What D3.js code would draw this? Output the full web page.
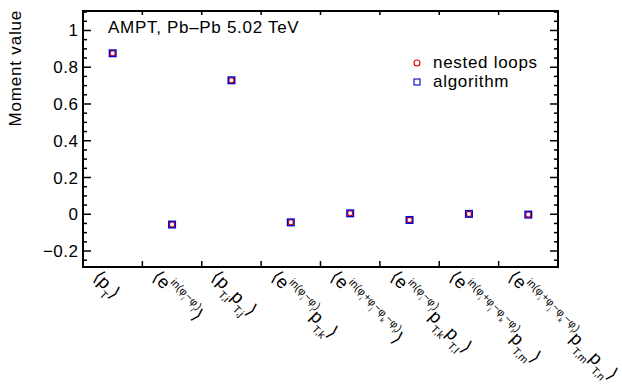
<!DOCTYPE html>
<html><head><meta charset="utf-8">
<script src="https://cdn.jsdelivr.net/npm/d3@7"></script>
<style>body{margin:0;background:#fff}text{font-family:"Liberation Sans",Arial,Helvetica,sans-serif}</style>
</head><body><svg id="c" width="622" height="392"></svg>
<script>
// ---- data ----
const categories = [
  "⟨p_{T}⟩",
  "⟨e^{in(φ_{i}−φ_{j})}⟩",
  "⟨p_{T,i}p_{T,j}⟩",
  "⟨e^{in(φ_{i}−φ_{j})}p_{T,k}⟩",
  "⟨e^{in(φ_{i}+φ_{j}−φ_{k}−φ_{l})}⟩",
  "⟨e^{in(φ_{i}−φ_{j})}p_{T,k}p_{T,l}⟩",
  "⟨e^{in(φ_{i}+φ_{j}−φ_{k}−φ_{l})}p_{T,m}⟩",
  "⟨e^{in(φ_{i}+φ_{j}−φ_{k}−φ_{l})}p_{T,m}p_{T,n}⟩"
];
const nestedLoops = [0.876, -0.056, 0.729, -0.044, 0.005, -0.031, 0.002, -0.002];
const algorithm   = [0.876, -0.056, 0.729, -0.044, 0.005, -0.031, 0.002, -0.002];
const yTicks = [-0.2, 0, 0.2, 0.4, 0.6, 0.8, 1];
const yTickLabels = ["−0.2", "0", "0.2", "0.4", "0.6", "0.8", "1"];
const legendLabels = ["nested loops", "algorithm"];
const title = "AMPT, Pb–Pb 5.02 TeV";
const yTitle = "Moment value";

// ---- layout ----
const svg = d3.select("#c");
const L = 83, R = 558, T = 11, B = 267;
const x = d3.scaleBand().domain(d3.range(categories.length)).range([L, R]).padding(0);
const y = d3.scaleLinear().domain([-0.287, 1.106]).range([B, T]);

const blue = "#0000cc", red = "#e00000";

// minor/major ticks left & right (inside)
const minor = d3.range(-0.25, 1.1001, 0.05).map(v => +v.toFixed(2));
const g = svg.append("g");
minor.forEach(v => {
  const isMaj = yTicks.some(t => Math.abs(t - v) < 1e-6);
  const len = isMaj ? 8 : 4;
  g.append("line").attr("x1", L).attr("x2", L + len).attr("y1", y(v)).attr("y2", y(v)).attr("stroke", "#000").attr("stroke-width", 1.5);
  g.append("line").attr("x1", R).attr("x2", R - len).attr("y1", y(v)).attr("y2", y(v)).attr("stroke", "#000").attr("stroke-width", 1.5);
});
// x ticks at bin edges
d3.range(1, categories.length).forEach(i => {
  const xe = x(i);
  g.append("line").attr("x1", xe).attr("x2", xe).attr("y1", B).attr("y2", B - 6).attr("stroke", "#000").attr("stroke-width", 1.5);
  g.append("line").attr("x1", xe).attr("x2", xe).attr("y1", T).attr("y2", T + 4).attr("stroke", "#000").attr("stroke-width", 1.5);
});
// frame
svg.append("rect").attr("x", L).attr("y", T).attr("width", R - L).attr("height", B - T)
  .attr("fill", "none").attr("stroke", "#000").attr("stroke-width", 2);

// y tick labels
yTicks.forEach((v, i) => {
  svg.append("text").attr("x", 78.5).attr("y", y(v) + 6).attr("text-anchor", "end")
    .attr("font-size", 17).attr("letter-spacing", 0.5).text(yTickLabels[i]);
});
// y title
svg.append("text").attr("transform", `translate(21,10) rotate(-90)`).attr("text-anchor", "end")
  .attr("font-size", 17).attr("letter-spacing", 0.8).text(yTitle);
// title
svg.append("text").attr("x", 108).attr("y", 33).attr("font-size", 17).attr("letter-spacing", 0.7).text(title);

// markers
const cx = i => x(i) + x.bandwidth() / 2;
nestedLoops.forEach((v, i) => {
  svg.append("circle").attr("cx", cx(i)).attr("cy", y(v)).attr("r", 2.6)
    .attr("fill", "none").attr("stroke", red).attr("stroke-width", 1.2);
});
algorithm.forEach((v, i) => {
  svg.append("rect").attr("x", cx(i) - 3.3).attr("y", y(v) - 3.3).attr("width", 6.6).attr("height", 6.6)
    .attr("fill", "none").attr("stroke", blue).attr("stroke-width", 1.4);
});

// legend
svg.append("circle").attr("cx", 417).attr("cy", 63).attr("r", 3).attr("fill", "none").attr("stroke", red).attr("stroke-width", 1.1);
svg.append("rect").attr("x", 414).attr("y", 79).attr("width", 6).attr("height", 6).attr("fill", "none").attr("stroke", blue).attr("stroke-width", 1.1);
svg.append("text").attr("x", 433).attr("y", 68).attr("font-size", 17).attr("letter-spacing", 0.7).text(legendLabels[0]);
svg.append("text").attr("x", 433).attr("y", 87).attr("font-size", 17).attr("letter-spacing", 0.7).text(legendLabels[1]);

// mini TeX parser for tick labels
function parse(s, size, shift, out) {
  let i = 0, buf = "";
  const flush = () => { if (buf) { out.push({ t: buf, size, shift }); buf = ""; } };
  while (i < s.length) {
    const c = s[i];
    if (c === "_" || c === "^") {
      flush();
      let grp;
      if (s[i + 1] === "{") {
        let d = 0, j = i + 1;
        for (; j < s.length; j++) { if (s[j] === "{") d++; else if (s[j] === "}") { d--; if (d === 0) break; } }
        grp = s.slice(i + 2, j); i = j + 1;
      } else { grp = s[i + 1]; i += 2; }
      const ns = size * 0.6;
      parse(grp, ns, shift + (c === "^" ? -size * 0.55 : size * 0.4), out);
    } else { buf += c; i++; }
  }
  flush();
  return out;
}
categories.forEach((lab, i) => {
  const segs = parse(lab, 18, 0, []);
  const t = svg.append("text").attr("transform", `translate(${cx(i) - 21},278) rotate(45)`);
  let cur = 0;
  segs.forEach(sg => {
    t.append("tspan").attr("font-size", sg.size).attr("dy", sg.shift - cur).text(sg.t);
    cur = sg.shift;
  });
});
</script></body></html>
